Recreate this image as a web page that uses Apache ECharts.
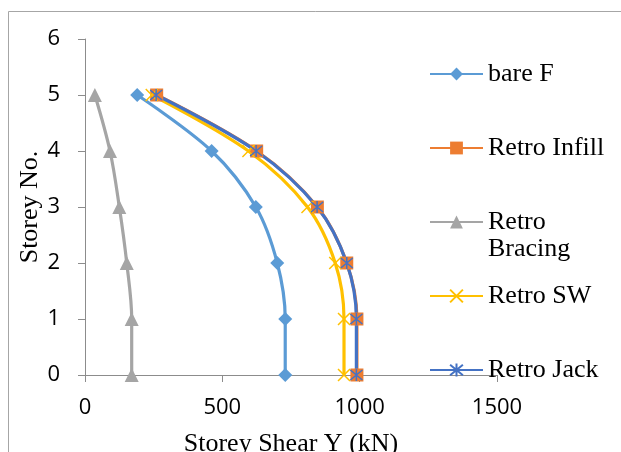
<!DOCTYPE html>
<html>
<head>
<meta charset="utf-8">
<script src="https://cdn.jsdelivr.net/npm/echarts/dist/echarts.min.js"></script>
<style>
  html, body { margin: 0; padding: 0; background: #ffffff; }
  #chart { width: 621px; height: 452px; }
</style>
</head>
<body>
<div id="chart"></div>
<script>
// Storey levels (y) and storey shear in kN (x) for each frame configuration
const storeys = [0, 1, 2, 3, 4, 5];
const bareF = [729, 729, 700, 622, 461, 190];
const retroInfill = [990, 990, 953, 846, 625, 261];
const retroBracing = [170, 170, 152, 125, 91, 36];
const retroSW = [943, 943, 911, 810, 595, 243];
const retroJack = [988, 988, 953, 845, 623, 259];

const seriesNames = ['bare F', 'Retro Infill', 'Retro Bracing', 'Retro SW', 'Retro Jack'];
const xTitle = 'Storey Shear Y (kN)';
const yTitle = 'Storey No.';

const pairs = (vals) => vals.map((v, i) => [v, storeys[i]]);

const crossPath = 'path://M0,0L10,10M10,0L0,10';
const starPath = 'path://M0,0L10,10M10,0L0,10M5,-1L5,11';

const axisGray = '#8c8c8c';
const serif = '"Liberation Serif", "Times New Roman", serif';
const sans = '"Open Sans", "Liberation Sans", sans-serif';

function makeSeries(name, vals, color, symbol, size, borderWidth) {
  return {
    name: name,
    type: 'line',
    data: pairs(vals),
    smooth: 0.35,
    symbol: symbol,
    symbolSize: size,
    showAllSymbol: true,
    lineStyle: { color: color, width: 3.2 },
    itemStyle: { color: color, borderColor: color, borderWidth: borderWidth || 0 },
    emphasis: { disabled: true },
    animation: false
  };
}

const chart = echarts.init(document.getElementById('chart'), null, { renderer: 'canvas' });

chart.setOption({
  backgroundColor: '#ffffff',
  animation: false,
  grid: { left: 85, top: 39, width: 412, height: 336, containLabel: false, outerBoundsMode: 'none' },
  xAxis: {
    type: 'value',
    min: 0, max: 1500, interval: 500,
    name: xTitle,
    nameLocation: 'middle',
    nameGap: 56,
    nameTextStyle: { fontFamily: serif, fontSize: 26, color: '#000' },
    axisLine: { show: true, onZero: false, lineStyle: { color: axisGray, width: 1 } },
    axisTick: { show: true, inside: false, length: 7, lineStyle: { color: axisGray } },
    axisLabel: { margin: 22, fontFamily: sans, fontSize: 22, color: '#000', formatter: (v) => String(v) },
    splitLine: { show: false }
  },
  yAxis: {
    type: 'value',
    min: 0, max: 6, interval: 1,
    name: yTitle,
    nameLocation: 'middle',
    nameGap: 42,
    nameRotate: 90,
    nameMoveOverlap: false,
    nameTextStyle: { fontFamily: serif, fontSize: 26, color: '#000' },
    axisLine: { show: true, onZero: false, lineStyle: { color: axisGray, width: 1 } },
    axisTick: { show: true, inside: false, length: 7, lineStyle: { color: axisGray } },
    axisLabel: { margin: 25, fontFamily: sans, fontSize: 22, color: '#000', formatter: (v) => String(v) },
    splitLine: { show: false }
  },
  legend: {
    orient: 'vertical',
    left: 424,
    top: 54,
    padding: 5,
    itemWidth: 53,
    itemHeight: 16,
    itemGap: 44,
    selectedMode: false,
    data: seriesNames,
    formatter: (n) => (n === 'Retro Bracing' ? 'Retro' : n),
    textStyle: { fontFamily: serif, fontSize: 26, color: '#000', lineHeight: 30 }
  },
  graphic: [
    {
      type: 'rect',
      silent: true,
      shape: { x: 8.5, y: 11.5, width: 900, height: 900 },
      style: { fill: 'none', stroke: '#a6a6a6', lineWidth: 1 }
    },
    {
      // second line of the wrapped "Retro Bracing" legend entry
      type: 'text',
      silent: true,
      left: 488,
      top: 236,
      style: { text: 'Bracing', font: '26px "Liberation Serif", "Times New Roman", serif', fill: '#000' }
    }
  ],
  series: [
    makeSeries(seriesNames[0], bareF, '#5b9bd5', 'diamond', 14),
    makeSeries(seriesNames[1], retroInfill, '#ed7d31', 'rect', 13),
    makeSeries(seriesNames[2], retroBracing, '#a5a5a5', 'triangle', 14),
    makeSeries(seriesNames[3], retroSW, '#ffc000', crossPath, 12, 1.5),
    makeSeries(seriesNames[4], retroJack, '#4472c4', starPath, 12, 1.5)
  ]
});
</script>
</body>
</html>
